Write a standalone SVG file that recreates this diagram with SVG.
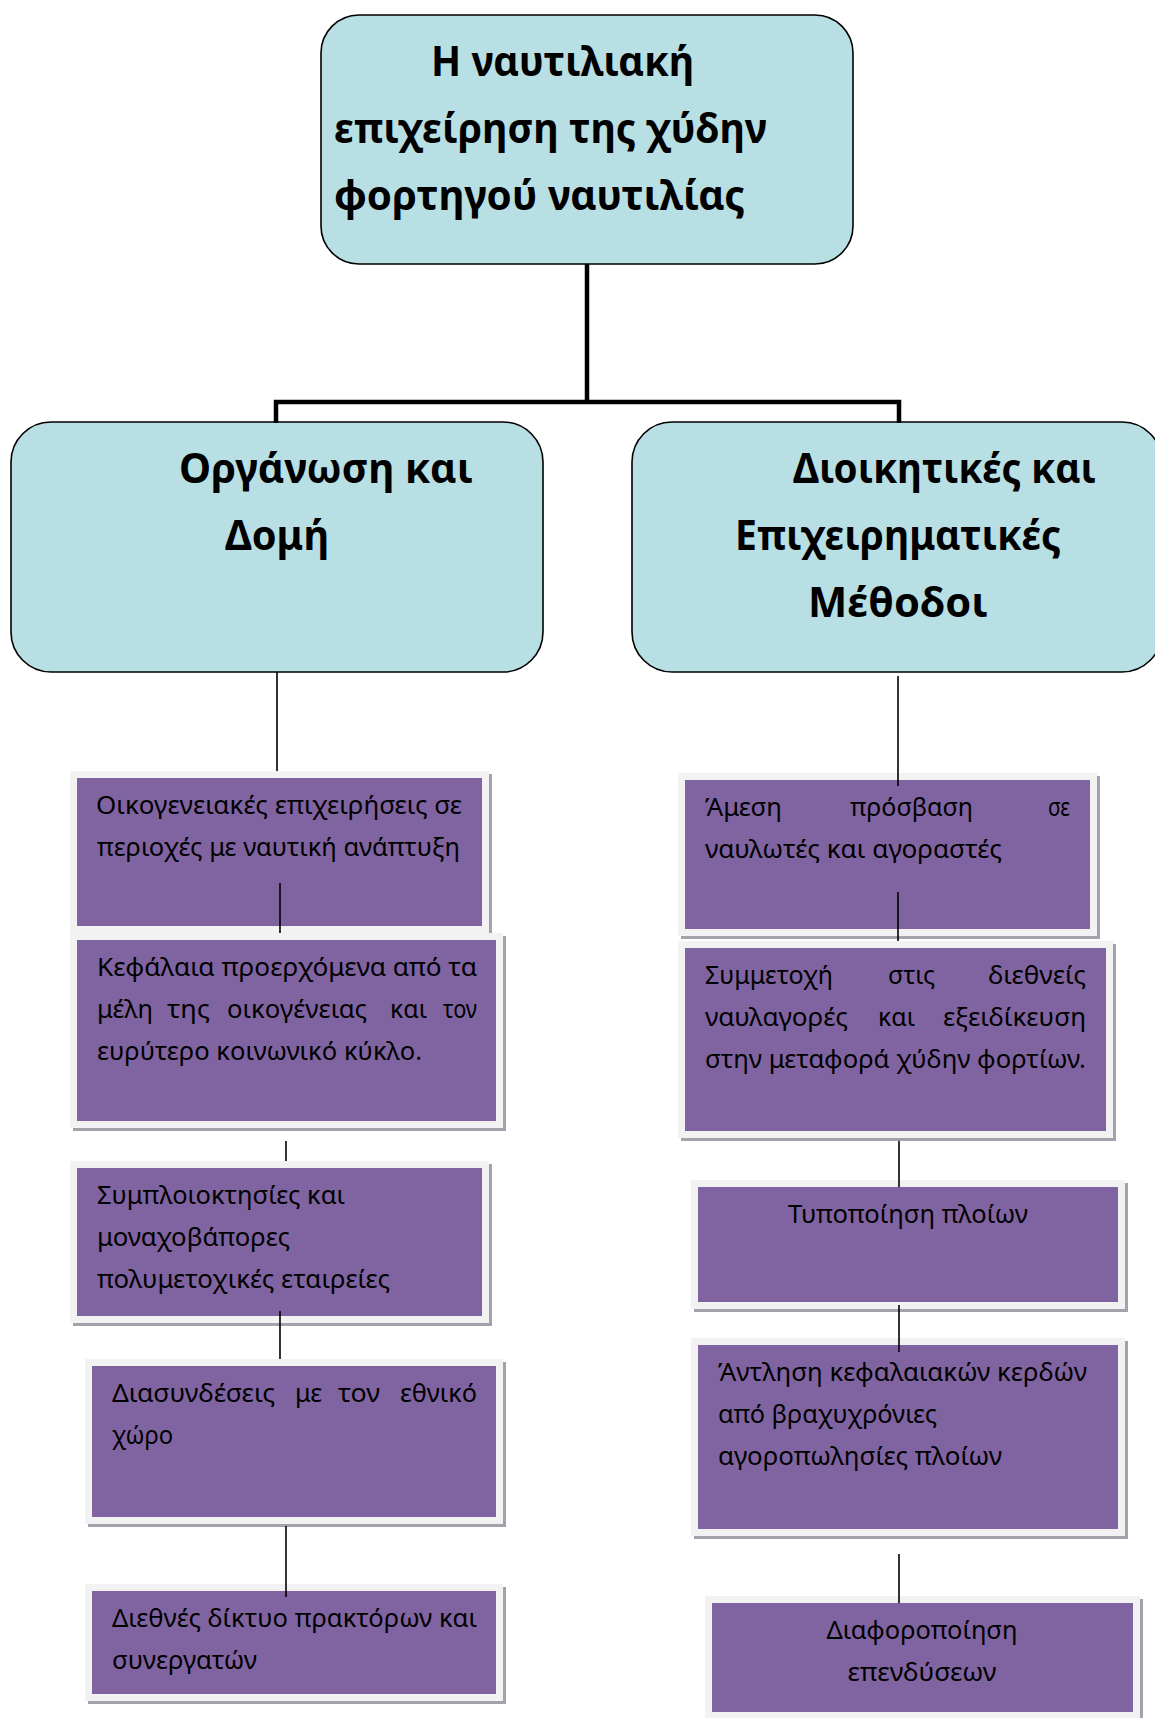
<svg xmlns="http://www.w3.org/2000/svg" width="1155" height="1718" viewBox="0 0 1155 1718">
<style>
.head{fill:#b8dfe3;stroke:#000;stroke-width:1.6}
.ht{font-family:"Noto Sans","Open Sans","DejaVu Sans",sans-serif;font-weight:bold;font-size:42px;fill:#000}
.shadow{fill:#a6a0ad}
.frame{fill:#f2f2f2}
.box{fill:#8064a2}
.bt{font-family:"Noto Sans","Open Sans","DejaVu Sans",sans-serif;font-size:25.5px;fill:#000}
.mid{text-anchor:middle}
.end{text-anchor:end}
.thick{fill:none;stroke:#000;stroke-width:4.5}
.thin{fill:none;stroke:#000;stroke-width:1.6}
</style>
<rect width="1155" height="1718" fill="#fff"/>

<g id="root">
<rect class="head" x="321" y="15" width="532" height="249" rx="38"/>
<text class="ht" x="431" y="76" textLength="263" lengthAdjust="spacingAndGlyphs">Η ναυτιλιακή</text>
<text class="ht" x="334" y="143" textLength="433" lengthAdjust="spacingAndGlyphs">επιχείρηση της χύδην</text>
<text class="ht" x="334" y="210" textLength="411" lengthAdjust="spacingAndGlyphs">φορτηγού ναυτιλίας</text>
</g>

<g id="organosi">
<rect class="head" x="11" y="422" width="532" height="250" rx="40"/>
<text class="ht" x="179" y="483" textLength="294" lengthAdjust="spacingAndGlyphs">Οργάνωση και</text>
<text class="ht" x="225" y="550" textLength="104" lengthAdjust="spacingAndGlyphs">Δομή</text>
</g>

<g id="dioikitikes">
<rect class="head" x="632" y="422" width="530" height="250" rx="40"/>
<text class="ht" x="793" y="483" textLength="303" lengthAdjust="spacingAndGlyphs">Διοικητικές και</text>
<text class="ht" x="735" y="550" textLength="326" lengthAdjust="spacingAndGlyphs">Επιχειρηματικές</text>
<text class="ht" x="808" y="617" textLength="180" lengthAdjust="spacingAndGlyphs">Μέθοδοι</text>
</g>

<!-- Left column -->
<g id="L1">
<rect class="shadow" x="73" y="774" width="419" height="162"/>
<rect class="frame" x="70" y="771" width="419" height="162"/>
<rect class="box" x="77" y="778" width="405" height="148"/>
<text class="bt" x="96" y="814" textLength="366" lengthAdjust="spacingAndGlyphs">Οικογενειακές επιχειρήσεις σε</text>
<text class="bt" x="97" y="856" textLength="363" lengthAdjust="spacingAndGlyphs">περιοχές με ναυτική ανάπτυξη</text>
</g>

<g id="L2">
<rect class="shadow" x="73" y="936" width="433" height="195"/>
<rect class="frame" x="70" y="933" width="433" height="195"/>
<rect class="box" x="77" y="940" width="419" height="181"/>
<text class="bt" x="97" y="976" textLength="380" lengthAdjust="spacingAndGlyphs">Κεφάλαια προερχόμενα από τα</text>
<text class="bt" x="97" y="1018" textLength="56" lengthAdjust="spacingAndGlyphs">μέλη</text>
<text class="bt" x="167" y="1018" textLength="43" lengthAdjust="spacingAndGlyphs">της</text>
<text class="bt" x="227" y="1018" textLength="140" lengthAdjust="spacingAndGlyphs">οικογένειας</text>
<text class="bt" x="390" y="1018" textLength="37" lengthAdjust="spacingAndGlyphs">και</text>
<text class="bt" x="443" y="1018" textLength="34" lengthAdjust="spacingAndGlyphs">τον</text>
<text class="bt" x="97" y="1060" textLength="325" lengthAdjust="spacingAndGlyphs">ευρύτερο κοινωνικό κύκλο.</text>
</g>

<g id="L3">
<rect class="shadow" x="73" y="1164" width="419" height="162"/>
<rect class="frame" x="70" y="1161" width="419" height="162"/>
<rect class="box" x="77" y="1168" width="405" height="148"/>
<text class="bt" x="97" y="1204" textLength="248" lengthAdjust="spacingAndGlyphs">Συμπλοιοκτησίες και</text>
<text class="bt" x="97" y="1246" textLength="193" lengthAdjust="spacingAndGlyphs">μοναχοβάπορες</text>
<text class="bt" x="97" y="1288" textLength="293" lengthAdjust="spacingAndGlyphs">πολυμετοχικές εταιρείες</text>
</g>

<g id="L4">
<rect class="shadow" x="88" y="1362" width="418" height="165"/>
<rect class="frame" x="85" y="1359" width="418" height="165"/>
<rect class="box" x="92" y="1366" width="404" height="151"/>
<text class="bt" x="112" y="1402" textLength="163" lengthAdjust="spacingAndGlyphs">Διασυνδέσεις</text>
<text class="bt" x="295" y="1402" textLength="27" lengthAdjust="spacingAndGlyphs">με</text>
<text class="bt" x="338" y="1402" textLength="42" lengthAdjust="spacingAndGlyphs">τον</text>
<text class="bt" x="400" y="1402" textLength="77" lengthAdjust="spacingAndGlyphs">εθνικό</text>
<text class="bt" x="112" y="1444" textLength="61" lengthAdjust="spacingAndGlyphs">χώρο</text>
</g>

<g id="L5">
<rect class="shadow" x="88" y="1587" width="418" height="117"/>
<rect class="frame" x="85" y="1584" width="418" height="117"/>
<rect class="box" x="92" y="1591" width="404" height="103"/>
<text class="bt" x="112" y="1627" textLength="365" lengthAdjust="spacingAndGlyphs">Διεθνές δίκτυο πρακτόρων και</text>
<text class="bt" x="112" y="1669" textLength="145" lengthAdjust="spacingAndGlyphs">συνεργατών</text>
</g>

<!-- Right column -->
<g id="R1">
<rect class="shadow" x="681" y="776" width="419" height="163"/>
<rect class="frame" x="678" y="773" width="419" height="163"/>
<rect class="box" x="685" y="780" width="405" height="149"/>
<text class="bt" x="705" y="816" textLength="77" lengthAdjust="spacingAndGlyphs">Άμεση</text>
<text class="bt" x="850" y="816" textLength="123" lengthAdjust="spacingAndGlyphs">πρόσβαση</text>
<text class="bt" x="1048" y="816" textLength="22" lengthAdjust="spacingAndGlyphs">σε</text>
<text class="bt" x="705" y="858" textLength="297" lengthAdjust="spacingAndGlyphs">ναυλωτές και αγοραστές</text>
</g>

<g id="R2">
<rect class="shadow" x="681" y="944" width="435" height="197"/>
<rect class="frame" x="678" y="941" width="435" height="197"/>
<rect class="box" x="685" y="948" width="421" height="183"/>
<text class="bt" x="705" y="984" textLength="128" lengthAdjust="spacingAndGlyphs">Συμμετοχή</text>
<text class="bt" x="888" y="984" textLength="47" lengthAdjust="spacingAndGlyphs">στις</text>
<text class="bt" x="988" y="984" textLength="98" lengthAdjust="spacingAndGlyphs">διεθνείς</text>
<text class="bt" x="705" y="1026" textLength="143" lengthAdjust="spacingAndGlyphs">ναυλαγορές</text>
<text class="bt" x="878" y="1026" textLength="37" lengthAdjust="spacingAndGlyphs">και</text>
<text class="bt" x="943" y="1026" textLength="143" lengthAdjust="spacingAndGlyphs">εξειδίκευση</text>
<text class="bt" x="705" y="1068" textLength="381" lengthAdjust="spacingAndGlyphs">στην μεταφορά χύδην φορτίων.</text>
</g>

<g id="R3">
<rect class="shadow" x="694" y="1183" width="434" height="129"/>
<rect class="frame" x="691" y="1180" width="434" height="129"/>
<rect class="box" x="698" y="1187" width="420" height="115"/>
<text class="bt mid" x="908" y="1223" textLength="240" lengthAdjust="spacingAndGlyphs">Τυποποίηση πλοίων</text>
</g>

<g id="R4">
<rect class="shadow" x="694" y="1341" width="434" height="198"/>
<rect class="frame" x="691" y="1338" width="434" height="198"/>
<rect class="box" x="698" y="1345" width="420" height="184"/>
<text class="bt" x="718" y="1381" textLength="369" lengthAdjust="spacingAndGlyphs">Άντληση κεφαλαιακών κερδών</text>
<text class="bt" x="718" y="1423" textLength="219" lengthAdjust="spacingAndGlyphs">από βραχυχρόνιες</text>
<text class="bt" x="718" y="1465" textLength="284" lengthAdjust="spacingAndGlyphs">αγοροπωλησίες πλοίων</text>
</g>

<g id="R5">
<rect class="shadow" x="708" y="1599" width="435" height="123"/>
<rect class="frame" x="705" y="1596" width="435" height="123"/>
<rect class="box" x="712" y="1603" width="421" height="109"/>
<text class="bt mid" x="922" y="1639" textLength="191" lengthAdjust="spacingAndGlyphs">Διαφοροποίηση</text>
<text class="bt mid" x="922" y="1681" textLength="149" lengthAdjust="spacingAndGlyphs">επενδύσεων</text>
</g>

<g id="connectors">
<path class="thick" d="M587,264 V402 M276,423 V402 H899 V423"/>
<path class="thin" d="M277,672 V771"/>
<path class="thin" d="M280,883 V933"/>
<path class="thin" d="M286,1141 V1161"/>
<path class="thin" d="M280,1311 V1359"/>
<path class="thin" d="M286,1526 V1597"/>
<path class="thin" d="M898,676 V786"/>
<path class="thin" d="M898,892 V941"/>
<path class="thin" d="M899,1141 V1187"/>
<path class="thin" d="M899,1305 V1352"/>
<path class="thin" d="M899,1554 V1603"/>
</g>
</svg>
